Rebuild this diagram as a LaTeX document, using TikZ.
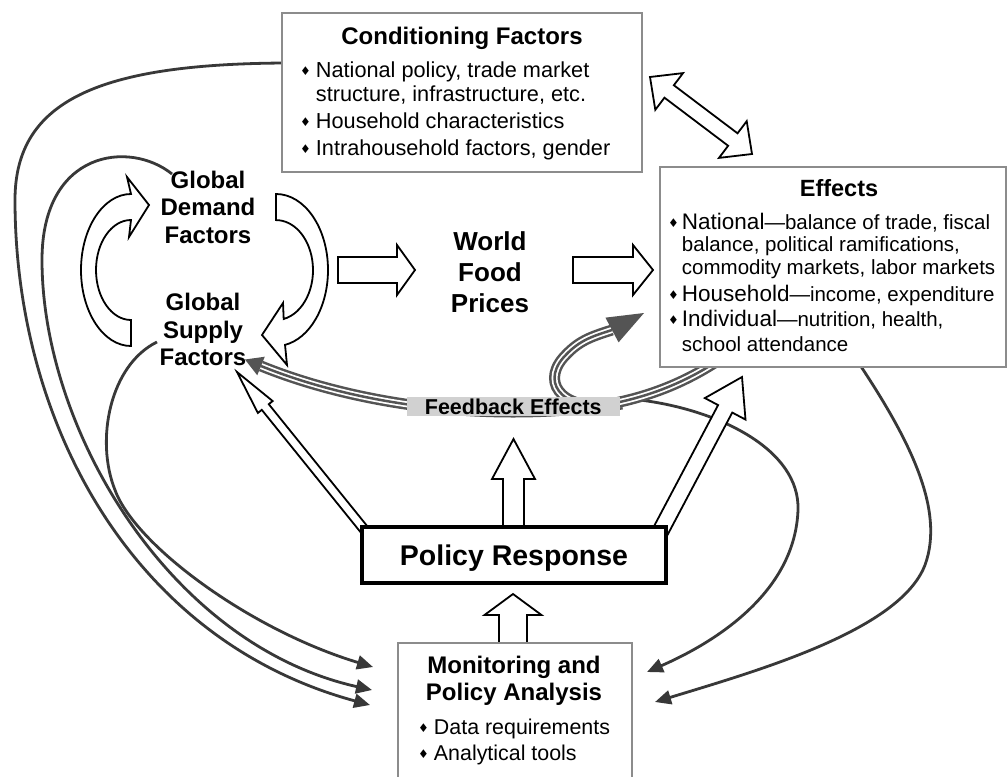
\documentclass[tikz,border=0pt]{standalone}
\usepackage{fontspec}
\setmainfont{Liberation Sans}
\newfontfamily\symfont{DejaVu Sans}
\usetikzlibrary{positioning,calc,arrows.meta}

\definecolor{boxgray}{gray}{0.55}
\definecolor{linkgray}{gray}{0.22}
\definecolor{bandgray}{gray}{0.33}

\newcommand{\fsz}[2]{\fontsize{#1}{#2}\selectfont}
\newcommand{\bul}[1][5pt]{\raisebox{2pt}{\symfont\fsz{12}{12}♦}\hspace{#1}}
\newcommand{\effhead}[1]{{\fsz{22.5}{22.5}#1}}

% block arrow: tail, tip, shaft half width, head half width, head length
\newcommand{\blockarrow}[5]{%
  \coordinate (ba-h) at ($(#2)!#5pt!(#1)$);
  \draw[fatarrow] ($(#1)!#3pt!90:(#2)$) -- ($(ba-h)!#3pt!90:(#2)$) -- ($(ba-h)!#4pt!90:(#2)$) -- (#2)
    -- ($(ba-h)!#4pt!-90:(#2)$) -- ($(ba-h)!#3pt!-90:(#2)$) -- ($(#1)!#3pt!-90:(#2)$) -- cycle;
}
% same with a head on both ends
\newcommand{\dblarrow}[5]{%
  \coordinate (ba-a) at ($(#1)!#5pt!(#2)$);
  \coordinate (ba-b) at ($(#2)!#5pt!(#1)$);
  \draw[fatarrow] (#1) -- ($(ba-a)!#4pt!90:(#2)$) -- ($(ba-a)!#3pt!90:(#2)$) -- ($(ba-b)!#3pt!-90:(#1)$)
    -- ($(ba-b)!#4pt!-90:(#1)$) -- (#2) -- ($(ba-b)!#4pt!90:(#1)$) -- ($(ba-b)!#3pt!90:(#1)$)
    -- ($(ba-a)!#3pt!-90:(#2)$) -- ($(ba-a)!#4pt!-90:(#2)$) -- cycle;
}
% head of the feedback band: base, tip, half width
\newcommand{\bandhead}[3]{%
  \fill[bandgray] (#2) -- ($(#1)!#3pt!90:(#2)$) -- ($(#1)!#3pt!-90:(#2)$) -- cycle;
}

\begin{document}
\begin{tikzpicture}[x=1pt,y=1pt,
gbox/.style={draw=boxgray, line width=2.2pt, fill=white, inner sep=0pt},
pbox/.style={draw=black, line width=4pt, fill=white, inner sep=0pt},
title/.style={font=\bfseries\fsz{24}{27.5}, align=center, inner sep=0pt},
body/.style={font=\fsz{21.7}{24.4}, align=left, inner sep=0pt},
link/.style={draw=linkgray, line width=2.8pt, -{Triangle[length=16pt,width=14pt]}},
fatarrow/.style={draw=black, line width=1.8pt, fill=white, line join=miter},
band/.style={draw=bandgray, line width=11pt, postaction={draw=white, line width=6pt}, postaction={draw=bandgray, line width=2.5pt}},
fblabel/.style={font=\bfseries\fsz{21.5}{24}, fill=black!18, inner xsep=18pt, inner ysep=1.5pt},
]
\path[use as bounding box, fill=white] (0,0) rectangle (1008,-776);
\clip (0,0) rectangle (1008,-776);

% ends of the thin links
\coordinate (c1s) at (285,-63);  \coordinate (c1e) at (370,-705);
\coordinate (c2s) at (172,-174); \coordinate (c2e) at (372,-690);
\coordinate (c3s) at (157,-342); \coordinate (c3e) at (373,-667);
\coordinate (c4s) at (858,-362); \coordinate (c4e) at (655,-702);
\coordinate (c5s) at (640,-400); \coordinate (c5e) at (647,-672);

\draw[link] (c1s) .. controls (100,-64) and (15,-100) .. (15,-200) .. controls (15,-420) and (130,-640) .. (c1e);
\draw[link] (c2s) .. controls (130,-140) and (42,-150) .. (42,-260) .. controls (42,-430) and (170,-645) .. (c2e);
\draw[link] (c3s) .. controls (110,-365) and (95,-440) .. (115,-490) .. controls (135,-545) and (250,-630) .. (c3e);
\draw[link] (c4s) .. controls (910,-440) and (945,-510) .. (925,-565) .. controls (900,-630) and (760,-670) .. (c4e);
\draw[link] (c5s) .. controls (720,-410) and (800,-450) .. (798,-510) .. controls (795,-590) and (720,-640) .. (c5e);

% feedback band
\coordinate (fb-in) at (716,-362);
\coordinate (fb-base) at (261,-366);   \coordinate (fb-tip) at (245,-359.5);
\coordinate (loop-base) at (612,-330); \coordinate (loop-tip) at (644,-313);
\draw[band] (622,-404) .. controls (565,-414) and (540,-385) .. (563,-358) .. controls (578,-341) and (590,-337) .. (loop-base);
\bandhead{loop-base}{loop-tip}{14}
\draw[band] (fb-in) .. controls (660,-398) and (600,-412) .. (513,-412) .. controls (420,-412) and (330,-394) .. (fb-base);
\bandhead{fb-base}{fb-tip}{10}
\node[fblabel, anchor=base] (feedback) at (513.3,-414) {Feedback Effects};

% demand/supply cycle
\draw[fatarrow] (131,-346) arc[start angle=-90, end angle=-270, x radius=50pt, y radius=76pt]
  -- (127,-177) -- (149,-205) -- (129,-237) -- (131,-220)
  arc[start angle=90, end angle=270, x radius=35pt, y radius=50pt] -- cycle;
\draw[fatarrow] (276,-194) arc[start angle=90, end angle=-80, x radius=52pt, y radius=76pt]
  -- (287,-365) -- (262,-335) -- (283,-303) -- (283.7,-319)
  arc[start angle=-78, end angle=90, x radius=37pt, y radius=50pt] -- cycle;

% block arrows
\coordinate (demand-out) at (338,-270); \coordinate (prices-in) at (415,-270);
\coordinate (prices-out) at (573,-270); \coordinate (effects-in) at (653,-270);
\coordinate (cond-se) at (650,-77);     \coordinate (effects-nw) at (752,-154);
\coordinate (policy-nw) at (367,-533);  \coordinate (supply-in) at (237,-372);
\coordinate (policy-ne) at (660,-532);  \coordinate (effects-sw) at (742,-377);
\coordinate (policy-n) at (513.5,-531); \coordinate (feedback-s) at (513.5,-439);
\coordinate (monitor-n) at (513,-646);  \coordinate (policy-s) at (513,-594);

\blockarrow{demand-out}{prices-in}{13}{25}{18}
\blockarrow{prices-out}{effects-in}{13}{25}{20}
\dblarrow{cond-se}{effects-nw}{7.8}{23}{24}
\blockarrow{policy-nw}{supply-in}{4.5}{9.5}{45}
\blockarrow{policy-ne}{effects-sw}{8}{23}{36}
\blockarrow{policy-n}{feedback-s}{10.5}{21.5}{40}
\blockarrow{monitor-n}{policy-s}{14}{28.5}{21}

% boxes
\node[gbox, minimum width=360pt, minimum height=159pt, anchor=north west] (cond) at (281,-12) {};
\node[gbox, minimum width=346pt, minimum height=200pt, anchor=north west] (effects) at (659,-166) {};
\node[gbox, minimum width=234pt, minimum height=160pt, anchor=north west] (monitor) at (397,-642) {};
\node[pbox, minimum width=304pt, minimum height=56pt, font=\bfseries\fsz{28.5}{30}, text depth=0pt] (policy) at (514,-555) {Policy Response};

% texts
\node[title, anchor=base] (condtitle) at (462,-45) {Conditioning Factors};
\node[body, anchor=north west] (condbody) at (300,-61.5) {%
  \bul National policy, trade market\\
  \phantom{\bul}structure, infrastructure, etc.\\[2.2pt]
  \bul Household characteristics\\[2.2pt]
  \bul Intrahousehold factors, gender};

\node[title, font=\bfseries\fsz{23.5}{27}, anchor=base] (efftitle) at (839,-196) {Effects};
\node[body, font=\fsz{20.5}{22.5}, anchor=north west] (effbody) at (668,-212.6) {%
  \bul[3pt]\effhead{National}—balance of trade, fiscal\\
  \phantom{\bul[3pt]}balance, political ramifications,\\
  \phantom{\bul[3pt]}commodity markets, labor markets\\[4.5pt]
  \bul[3pt]\effhead{Household}—income, expenditure\\[2.5pt]
  \bul[3pt]\effhead{Individual}—nutrition, health,\\[3pt]
  \phantom{\bul[3pt]}school attendance};

\node[title, anchor=north] (montitle) at (514,-655.8) {Monitoring and\\Policy Analysis};
\node[body, font=\fsz{21.4}{26.7}, anchor=north west] (monbody) at (418,-718.4) {%
  \bul Data requirements\\
  \bul Analytical tools};

\node[title, anchor=north] (demand) at (208,-170.8) {Global\\Demand\\Factors};
\node[title, anchor=north] (supply) at (203,-293.2) {Global\\Supply\\Factors};
\node[title, font=\bfseries\fsz{26}{31}, anchor=north] (prices) at (490,-231) {World\\Food\\Prices};
\end{tikzpicture}
\end{document}
